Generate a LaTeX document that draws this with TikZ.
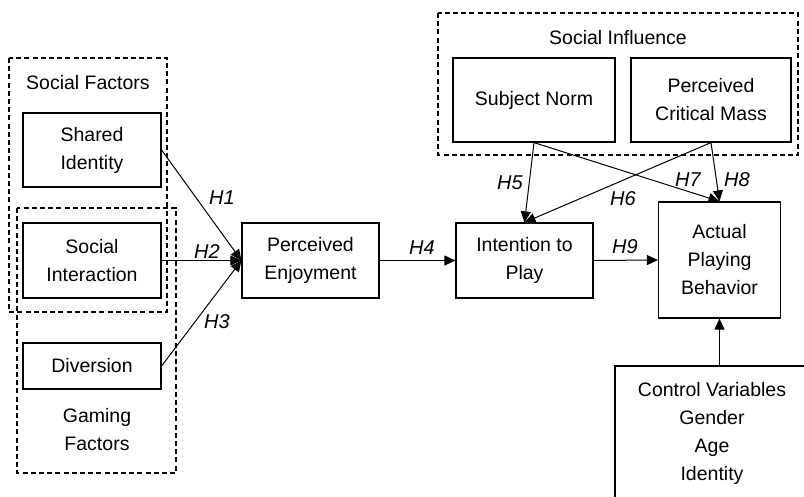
\documentclass[tikz,border=0pt]{standalone}
\usepackage{fontspec}
\setmainfont{Liberation Sans}
\usetikzlibrary{arrows.meta}
\tikzset{
  box/.style={draw, line width=0.6pt, align=center, inner sep=0pt},
  grp/.style={draw, line width=0.6pt, dash pattern=on 2.5pt off 1.6pt},
  hyp/.style={font=\itshape, inner sep=1pt},
  arr/.style={-{Triangle[length=5.5pt,width=5pt]}, line width=0.5pt},
}
\begin{document}
\begin{tikzpicture}[x=0.5pt, y=-0.5pt, font=\fontsize{9.75}{14}\selectfont]
  \useasboundingbox (0,0) rectangle (804,497);
  % dashed groups
  \draw[grp] (9,58) rectangle (167,312);
  \draw[grp] (17,208) rectangle (176,473);
  \draw[grp] (438,13) rectangle (798,155);
  \node (sflabel) at (88,83)  {Social Factors};
  \node[align=center] (gflabel) at (97,430) {Gaming\\Factors};
  \node (silabel) at (618,38) {Social Influence};
  % constructs
  \node[box, minimum width=69pt, minimum height=37pt]   (shared)    at (92,150)    {Shared\\Identity};
  \node[box, minimum width=69pt, minimum height=37.5pt] (interact)  at (92,260.5)  {Social\\Interaction};
  \node[box, minimum width=69pt, minimum height=23pt]   (diversion) at (92,366)    {Diversion};
  \node[box, minimum width=68.5pt, minimum height=37.5pt] (enjoy)   at (310.5,260.5) {Perceived\\Enjoyment};
  \node[box, minimum width=68.5pt, minimum height=37.5pt] (intention) at (524.5,260.5) {Intention to\\Play};
  \node[box, minimum width=61pt, minimum height=58pt]   (actual)    at (719.5,260) {Actual\\Playing\\Behavior};
  \node[box, minimum width=81pt, minimum height=42pt]   (norm)      at (534,100)   {Subject Norm};
  \node[box, minimum width=80pt, minimum height=42pt]   (mass)      at (711,100)   {Perceived\\Critical Mass};
  \node[box, minimum width=97pt, minimum height=72pt]   (ctrl)      at (712,438)   {};
  \node[align=center] (ctrltext) at (712,433) {Control Variables\\Gender\\Age\\Identity};
  % paths
  \draw[arr] (shared.east)    -- (enjoy.west);
  \draw[arr] (interact.east)  -- (enjoy.west);
  \draw[arr] (diversion.east) -- (enjoy.west);
  \draw[arr] (enjoy.east)     -- (intention.west);
  \draw[arr] (intention.east) -- (actual.west);
  \draw[arr] (norm.south) -- (intention.north);
  \draw[arr] (norm.south) -- (actual.north);
  \draw[arr] (mass.south) -- (intention.north);
  \draw[arr] (mass.south) -- (actual.north);
  \draw[arr] (ctrl.north -| actual.south) -- (actual.south);
  % hypotheses
  \node[hyp] (h1) at (222,198) {H1};
  \node[hyp] (h2) at (207,252) {H2};
  \node[hyp] (h3) at (217,322) {H3};
  \node[hyp] (h4) at (422,248) {H4};
  \node[hyp] (h5) at (510,183) {H5};
  \node[hyp] (h6) at (623,199) {H6};
  \node[hyp] (h7) at (688,180) {H7};
  \node[hyp] (h8) at (737,180) {H8};
  \node[hyp] (h9) at (625,247) {H9};
\end{tikzpicture}
\end{document}
